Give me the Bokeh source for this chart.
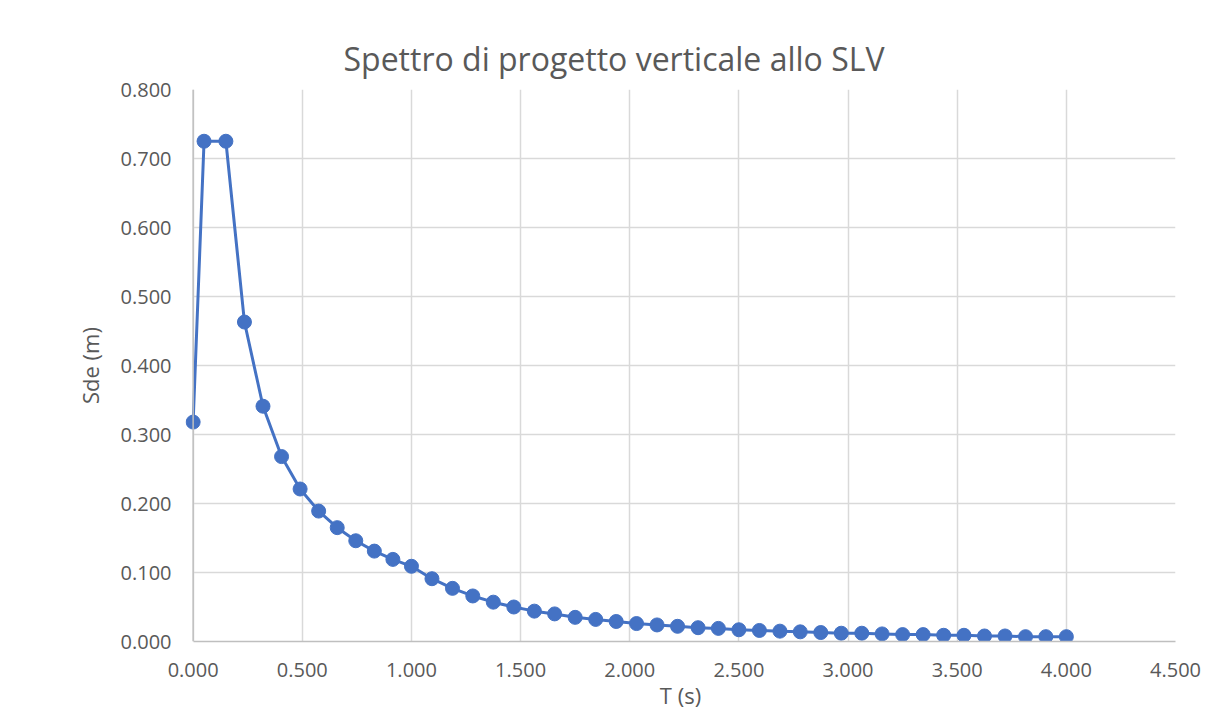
from bokeh.plotting import figure
from bokeh.models import Range1d, FixedTicker, NumeralTickFormatter, ColumnDataSource, Span
from bokeh.embed import file_html
from bokeh.resources import INLINE

# Data
T = [0.000, 0.050, 0.150, 0.235, 0.320, 0.405, 0.490, 0.575, 0.660, 0.745,
     0.830, 0.915, 1.000, 1.094, 1.188, 1.281, 1.375, 1.469, 1.563, 1.656,
     1.750, 1.844, 1.938, 2.031, 2.125, 2.219, 2.313, 2.406, 2.500, 2.594,
     2.688, 2.781, 2.875, 2.969, 3.063, 3.156, 3.250, 3.344, 3.438, 3.531,
     3.625, 3.719, 3.813, 3.906, 4.000]
Sde = [0.318, 0.725, 0.725, 0.463, 0.341, 0.268, 0.221, 0.189, 0.165, 0.146,
       0.131, 0.119, 0.109, 0.091, 0.077, 0.066, 0.057, 0.050, 0.044, 0.040,
       0.035, 0.032, 0.029, 0.026, 0.024, 0.022, 0.020, 0.019, 0.017, 0.016,
       0.015, 0.014, 0.013, 0.012, 0.012, 0.011, 0.010, 0.010, 0.009, 0.009,
       0.008, 0.008, 0.007, 0.007, 0.007]
x_ticks = [0.0, 0.5, 1.0, 1.5, 2.0, 2.5, 3.0, 3.5, 4.0, 4.5]
y_ticks = [0.0, 0.1, 0.2, 0.3, 0.4, 0.5, 0.6, 0.7, 0.8]
title = "Spettro di progetto verticale allo SLV"
x_label = "T (s)"
y_label = "Sde (m)"

FONT = "Open Sans"
TXT = "#595959"
GRID = "#d9d9d9"
AXIS = "#bfbfbf"
BLUE = "#4472C4"

p = figure(width=1215, height=712, output_backend="svg", toolbar_location=None,
           x_range=Range1d(-0.035, 4.5), y_range=Range1d(0, 0.8),
           min_border_left=185, min_border_right=40, min_border_top=89,
           min_border_bottom=70)
p.outline_line_color = None
p.background_fill_color = "white"
p.border_fill_color = "white"

p.title.text = title
p.title.align = "left"
p.title.text_font = FONT
p.title.text_font_size = "32px"
p.title.text_font_style = "normal"
p.title.text_color = TXT
p.title.offset = 158
p.title.standoff = 20

src = ColumnDataSource(data=dict(T=T, Sde=Sde))
p.line("T", "Sde", source=src, line_color=BLUE, line_width=3)
p.scatter("T", "Sde", source=src, size=14, fill_color=BLUE, line_color=BLUE)

for ax in (p.xaxis, p.yaxis):
    ax.major_tick_line_color = None
    ax.minor_tick_line_color = None
    ax.major_tick_in = 0
    ax.major_tick_out = 0
    ax.major_label_text_font = FONT
    ax.major_label_text_font_size = "20px"
    ax.major_label_text_color = TXT
    ax.axis_label_text_font = FONT
    ax.axis_label_text_font_size = "22px"
    ax.axis_label_text_font_style = "normal"
    ax.axis_label_text_color = TXT
    ax.formatter = NumeralTickFormatter(format="0.000")

p.xaxis.ticker = FixedTicker(ticks=x_ticks)
p.yaxis.ticker = FixedTicker(ticks=y_ticks)
p.xaxis.bounds = (0, 4.5)
p.xaxis.axis_line_color = AXIS
p.xaxis.axis_line_width = 1.5
p.yaxis.axis_line_color = None
p.xaxis.axis_label = x_label
p.yaxis.axis_label = y_label
p.xaxis.major_label_standoff = 21
p.xaxis.axis_label_standoff = 0
p.yaxis.major_label_standoff = 14
p.yaxis.axis_label_standoff = 13

p.xgrid.grid_line_color = GRID
p.ygrid.grid_line_color = GRID
p.xgrid.grid_line_width = 1.5
p.ygrid.grid_line_width = 1.5
for g in p.ygrid:
    if "cross_bounds" in g.properties():
        g.cross_bounds = (0, 4.5)

p.add_layout(Span(location=0, dimension="height", line_color=AXIS, line_width=1.5))

open("out.html", "w").write(file_html(p, INLINE))
